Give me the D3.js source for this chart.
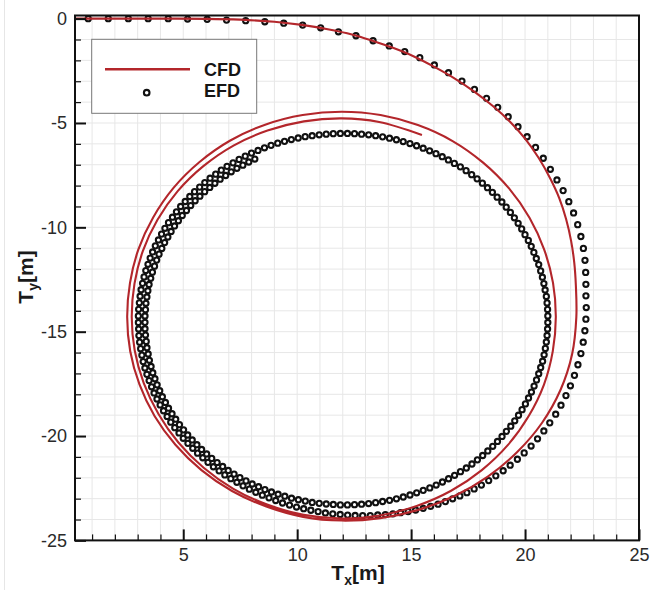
<!DOCTYPE html>
<html><head><meta charset="utf-8">
<script src="https://cdn.jsdelivr.net/npm/d3@7"></script>
<style>html,body{margin:0;padding:0;background:#fff;}svg{display:block;font-family:"Liberation Sans",Arial,sans-serif;}</style>
</head><body>
<svg id="chart" width="652" height="590"></svg>
<script>
// ---------- axis extents and ticks ----------
const xDomain = [0.25, 25];
const yDomain = [-25, 0.15];
const xMajor = [5, 10, 15, 20, 25];
const xMinor = [1,2,3,4,6,7,8,9,11,12,13,14,16,17,18,19,21,22,23,24];
const yMajor = [0, -5, -10, -15, -20, -25];
const yMinor = [-1,-2,-3,-4,-6,-7,-8,-9,-11,-12,-13,-14,-16,-17,-18,-19,-21,-22,-23,-24];
const seriesNames = ["CFD", "EFD"];

// ---------- CFD: approach (Cartesian) ----------
const cfdApproachX = [0,2,4,6,7.5,9,10.2,11.4,12.4,13.3,14.2,15.1,16.0,16.9,17.8,18.6,19.35,20.0,20.6,21.1,21.5,21.8,22.02,22.16,22.23];
const cfdApproachY = [0,0,0,-0.01,-0.05,-0.15,-0.3,-0.52,-0.76,-1.06,-1.4,-1.8,-2.3,-2.86,-3.52,-4.2,-4.95,-5.75,-6.68,-7.65,-8.6,-9.6,-10.65,-11.7,-12.8];
// ---------- CFD: turning loops, polar about the turning centre (turn angle deg clockwise from north, radius m) ----------
const cfdCenter = [11.95, -14.3];
const cfdTurn = [90,100,110,120,130,140,150,160,170,180,190,200,210,220,230,240,250,260,270,280,290,300,310,320,330,340,350,360,370,380,390,400,410,420,430,440,450,460,470,480,490,500,510,520,530,540,550,560,570,580,590,600,610,620,630,640,650,660,670,680,690,700,710,720,730,742];
const cfdRadius = [10.30,10.27,10.22,10.15,10.06,9.98,9.90,9.83,9.78,9.75,9.72,9.66,9.62,9.57,9.52,9.48,9.44,9.42,9.41,9.43,9.49,9.55,9.63,9.70,9.77,9.81,9.83,9.84,9.83,9.79,9.74,9.66,9.59,9.52,9.46,9.42,9.40,9.41,9.45,9.48,9.53,9.57,9.61,9.63,9.65,9.65,9.62,9.56,9.50,9.42,9.35,9.28,9.24,9.22,9.21,9.23,9.28,9.33,9.39,9.44,9.49,9.51,9.52,9.52,9.49,9.41];

// ---------- EFD: approach (Cartesian) ----------
const efdApproachX = [0.83,1.71,2.59,3.46,4.34,5.19,6.05,6.90,7.74,8.58,9.41,10.24,11.03,11.81,12.58,13.33,14.04,14.72,15.38,16.02,16.64,17.23,17.78,18.31,18.80,19.26,19.69,20.09,20.46,20.80,21.11,21.40,21.67,21.92,22.13,22.31,22.45,22.56,22.63,22.66,22.67];
const efdApproachY = [0,0,0,0,0,-0.02,-0.03,-0.07,-0.10,-0.15,-0.22,-0.31,-0.44,-0.63,-0.82,-1.06,-1.31,-1.58,-1.87,-2.22,-2.59,-2.99,-3.39,-3.82,-4.25,-4.70,-5.18,-5.66,-6.17,-6.69,-7.22,-7.73,-8.24,-8.77,-9.31,-9.87,-10.44,-11.01,-11.58,-12.16,-12.73];
// ---------- EFD: turning loops, polar about the turning centre ----------
const efdCenter = [12.05, -14.4];
const efdTurn = [84,87,90,93,96,99,102,104.9,107.8,110.6,113.4,116.1,118.8,121.4,124,126.5,129,131.4,133.8,136.1,138.4,140.6,142.8,144.9,147,149,
151,153,155,157,159,161,163,165,167,169,
171,173,175,177,179,181,183,185,187,189,
191,193,195,197,199,201,203,205,207,209,
211,213,215,217,219,221,223,225,227,229,
231,233,235,237,239,241,243,245,247,249,
251,253,255,257,259,261,263,265,267,269,
271,273,275,277,279,281,283,285,287,289,
291,293,295,297,299,301,303,305,307,309,
311,313,315,317,319,321,323,325,327,329,
331,333,335,337,339,341,343,345,347,349,
351,353,355,357,359,361,363,365,367,369,
371,373,375,377,379,381,383,385,387,389,
391,393,395,397,399,401,403,405,407,409,
411,413,415,417,419,421,423,425,427,429,
431,433,435,437,439,441,443,445,447,449,
451,453,455,457,459,461,463,465,467,469,
471,473,475,477,479,481,483,485,487,489,
491,493,495,497,499,501,503,505,507,509,
511,513,515,517,519,521,523,525,527,529,
531,533,535,537,539,541,543,545,547,549,
551,553,555,557,559,561,563,565,567,569,
571,573,575,577,579,581,583,585,587,589,
591,593,595,597,599,601,603,605,607,609,
611,613,615,617,619,621,623,625,627,629,
631,633,635,637,639,641,643,645,647,649,
651,653,655,657,659,661,663,665,667,669,
671,673,675,677,679,681,683,685,687,689,
691,693];
const efdRadius = [10.68,10.65,10.62,10.59,10.56,10.53,10.50,10.47,10.44,10.41,10.38,10.35,10.31,10.28,10.25,10.22,10.18,10.15,10.11,10.08,10.04,10.01,9.98,9.94,9.91,9.88,
9.84,9.81,9.78,9.74,9.71,9.67,9.64,9.60,9.57,9.54,
9.50,9.48,9.45,9.42,9.39,9.36,9.34,9.32,9.29,9.27,
9.25,9.24,9.22,9.21,9.19,9.17,9.16,9.15,9.14,9.13,
9.12,9.11,9.11,9.10,9.10,9.09,9.08,9.08,9.07,9.07,
9.07,9.06,9.06,9.06,9.05,9.05,9.05,9.05,9.05,9.04,
9.04,9.04,9.04,9.04,9.03,9.03,9.03,9.03,9.02,9.02,
9.02,9.02,9.01,9.01,9.01,9.00,9.00,9.00,8.99,8.99,
8.99,8.99,8.98,8.98,8.98,8.98,8.97,8.97,8.97,8.96,
8.96,8.96,8.95,8.95,8.95,8.94,8.94,8.94,8.93,8.93,
8.93,8.93,8.92,8.92,8.92,8.92,8.91,8.91,8.91,8.91,
8.90,8.90,8.90,8.90,8.90,8.90,8.90,8.90,8.90,8.90,
8.90,8.90,8.90,8.90,8.90,8.90,8.90,8.90,8.90,8.90,
8.90,8.90,8.91,8.91,8.91,8.91,8.91,8.91,8.91,8.91,
8.92,8.92,8.92,8.92,8.92,8.92,8.92,8.93,8.93,8.93,
8.93,8.94,8.94,8.94,8.94,8.94,8.95,8.95,8.95,8.95,
8.95,8.95,8.95,8.95,8.95,8.95,8.95,8.94,8.94,8.94,
8.94,8.94,8.94,8.94,8.94,8.94,8.94,8.94,8.93,8.93,
8.93,8.93,8.93,8.93,8.93,8.93,8.93,8.92,8.92,8.92,
8.92,8.92,8.92,8.91,8.91,8.91,8.91,8.91,8.91,8.90,
8.90,8.90,8.90,8.90,8.90,8.90,8.89,8.89,8.89,8.89,
8.88,8.88,8.88,8.87,8.87,8.87,8.87,8.86,8.86,8.86,
8.86,8.85,8.85,8.84,8.84,8.84,8.83,8.83,8.82,8.82,
8.82,8.81,8.81,8.80,8.80,8.80,8.79,8.79,8.78,8.78,
8.77,8.77,8.76,8.76,8.75,8.75,8.74,8.74,8.74,8.73,
8.73,8.72,8.72,8.71,8.71,8.71,8.70,8.70,8.69,8.69,
8.69,8.68,8.68,8.67,8.67,8.67,8.66,8.66,8.65,8.65,
8.65,8.64,8.64,8.63,8.63,8.63,8.62,8.62,8.62,8.61,
8.61,8.61];

// ---------- drawing ----------
const svg = d3.select("#chart");
const x = d3.scaleLinear().domain(xDomain).range([75, 639]);
const y = d3.scaleLinear().domain(yDomain).range([540.4, 15.5]);
const RED = "#b3262b", INK = "#111";
const fontFam = '"Liberation Sans", Arial, sans-serif';

svg.append("rect").attr("width", 652).attr("height", 590).attr("fill", "#fff");
svg.append("line").attr("x1", 4.5).attr("x2", 4.5).attr("y1", 0).attr("y2", 590)
  .attr("stroke", "#e6e6e6").attr("stroke-width", 1);

const px0 = x(xDomain[0]), px1 = x(xDomain[1]), py0 = y(yDomain[1]), py1 = y(yDomain[0]);

// grid
const grid = svg.append("g").attr("stroke", "#e7e7e7").attr("stroke-width", 1);
grid.selectAll(".gx").data(xMajor.concat(xMinor).filter(v => v < xDomain[1])).join("line")
  .attr("x1", d => x(d)).attr("x2", d => x(d)).attr("y1", py0).attr("y2", py1);
grid.selectAll(".gy").data(yMajor.concat(yMinor).filter(v => v > yDomain[0] && v < 0)).join("line")
  .attr("y1", d => y(d)).attr("y2", d => y(d)).attr("x1", px0).attr("x2", px1);

// clip
svg.append("clipPath").attr("id", "plotclip").append("rect")
  .attr("x", px0).attr("y", py0).attr("width", px1 - px0).attr("height", py1 - py0);
const plot = svg.append("g").attr("clip-path", "url(#plotclip)");

function polarToXY(center, turns, radii) {
  return turns.map((a, i) => {
    const p = d3.pointRadial(a * Math.PI / 180, radii[i]);
    return [center[0] + p[0], center[1] - p[1]];
  });
}

const efdPts = efdApproachX.map((v, i) => [v, efdApproachY[i]])
  .concat(polarToXY(efdCenter, efdTurn, efdRadius));
const cfdPts = cfdApproachX.map((v, i) => [v, cfdApproachY[i]])
  .concat(polarToXY(cfdCenter, cfdTurn, cfdRadius));

plot.append("g").selectAll("circle").data(efdPts).join("circle")
  .attr("cx", d => x(d[0])).attr("cy", d => y(d[1])).attr("r", 2.6)
  .attr("fill", "#fff").attr("stroke", INK).attr("stroke-width", 2.1);

const line = d3.line().x(d => x(d[0])).y(d => y(d[1])).curve(d3.curveCatmullRom.alpha(0.5));
plot.append("path").datum(cfdPts).attr("d", line)
  .attr("fill", "none").attr("stroke", RED).attr("stroke-width", 2.1);

// frame
svg.append("rect").attr("x", px0).attr("y", py0).attr("width", px1 - px0).attr("height", py1 - py0)
  .attr("fill", "none").attr("stroke", INK).attr("stroke-width", 2);

function styleAxis(g, major) {
  g.select(".domain").remove();
  g.attr("font-family", fontFam).attr("font-size", 18);
  g.selectAll("line").attr("stroke", INK).attr("stroke-width", major ? 2 : 1.2);
  g.selectAll("text").attr("fill", "#2a2a2a");
}
svg.append("g").attr("transform", `translate(0,${py1})`)
  .call(d3.axisBottom(x).tickValues(xMinor).tickSize(-6).tickFormat(""))
  .call(g => styleAxis(g, false));
svg.append("g").attr("transform", `translate(0,${py1})`)
  .call(d3.axisBottom(x).tickValues(xMajor).tickSize(-11).tickPadding(8).tickFormat(d => String(d)))
  .call(g => styleAxis(g, true));
svg.append("g").attr("transform", `translate(${px0},0)`)
  .call(d3.axisLeft(y).tickValues(yMinor).tickSize(-6).tickFormat(""))
  .call(g => styleAxis(g, false));
svg.append("g").attr("transform", `translate(${px0},0)`)
  .call(d3.axisLeft(y).tickValues(yMajor).tickSize(-11).tickPadding(8).tickFormat(d => String(d)))
  .call(g => styleAxis(g, true));

// axis titles
function title(sel, sub) {
  sel.attr("font-family", fontFam).attr("font-weight", "bold").attr("font-size", 21)
    .attr("fill", "#1a1a1a").attr("text-anchor", "middle");
  sel.append("tspan").text("T");
  sel.append("tspan").attr("font-size", 14).attr("dy", 5).text(sub);
  sel.append("tspan").attr("dy", -5).text("[m]");
}
svg.append("text").attr("x", 358).attr("y", 580).call(s => title(s, "x"));
svg.append("text").attr("transform", "translate(33,277) rotate(-90)").call(s => title(s, "y"));

// legend
const lg = svg.append("g");
lg.append("rect").attr("x", 91.7).attr("y", 39.3).attr("width", 165).attr("height", 74)
  .attr("fill", "#fff").attr("stroke", "#777").attr("stroke-width", 1);
lg.append("line").attr("x1", 105).attr("x2", 190).attr("y1", 69.3).attr("y2", 69.3)
  .attr("stroke", RED).attr("stroke-width", 2.5);
lg.append("circle").attr("cx", 146.7).attr("cy", 92.7).attr("r", 2.8)
  .attr("fill", "#fff").attr("stroke", INK).attr("stroke-width", 2.1);
lg.selectAll("text").data(seriesNames).join("text")
  .attr("x", 204).attr("y", (d, i) => i === 0 ? 76 : 97.3)
  .attr("font-family", fontFam).attr("font-weight", "bold").attr("font-size", 18)
  .attr("fill", "#151515").text(d => d);
</script>
</body></html>
